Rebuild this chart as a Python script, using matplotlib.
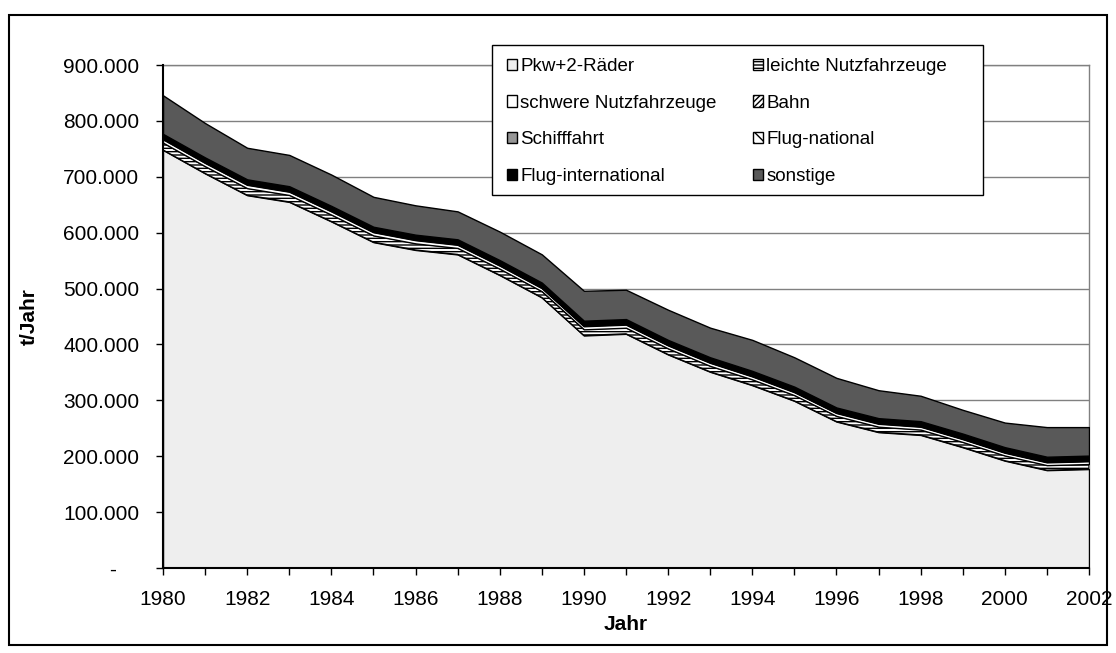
import matplotlib
matplotlib.use('Agg')
import matplotlib.pyplot as plt
import numpy as np
from matplotlib.patches import Patch, Rectangle
from matplotlib.ticker import FuncFormatter, MultipleLocator

plt.rcParams['font.family'] = ['Liberation Sans', 'DejaVu Sans']
plt.rcParams['hatch.linewidth'] = 1.0

# Emissionen in t/Jahr, je Verursacher
years = list(range(1980, 2003))
pkw = [748000, 706000, 667000, 655000, 620000, 583000, 569000, 561000, 524000, 484000, 416000, 419000,
       382000, 351000, 327000, 299000, 262000, 243000, 238000, 216000, 192000, 175000, 177000]
leichte_nfz = [13000, 12800, 12600, 12400, 12200, 12000, 11800, 11600, 11400, 11200, 11000, 10900,
               10800, 10600, 10400, 10200, 10000, 9800, 9600, 9400, 9200, 9000, 9000]
schwere_nfz = [6000, 5900, 5900, 5800, 5800, 5700, 5700, 5600, 5600, 5500, 5500, 5500,
               5400, 5400, 5300, 5300, 5200, 5200, 5100, 5100, 5000, 5000, 5000]
bahn = [2000, 2000, 1900, 1900, 1800, 1800, 1700, 1700, 1600, 1600, 1500, 1500,
        1400, 1400, 1300, 1300, 1200, 1200, 1100, 1100, 1000, 1000, 1000]
schifffahrt = [1500, 1500, 1500, 1400, 1400, 1400, 1400, 1300, 1300, 1300, 1300, 1200,
               1200, 1200, 1200, 1100, 1100, 1100, 1100, 1000, 1000, 1000, 1000]
flug_national = [800, 800, 800, 800, 800, 700, 700, 700, 700, 700, 700, 700,
                 600, 600, 600, 600, 600, 600, 500, 500, 500, 500, 500]
flug_international = [5500, 5600, 5700, 5800, 5900, 6000, 6100, 6200, 6300, 6400, 6500, 6600,
                      6700, 6800, 6900, 7000, 7100, 7200, 7300, 7400, 7500, 7600, 7600]
sonstige = [69000, 61500, 56500, 56000, 56000, 53500, 52500, 50000, 51000, 50500, 53500, 52500,
            54000, 53000, 55500, 52500, 53000, 50000, 45500, 42500, 44000, 53000, 51000]

# (Bezeichnung, Werte, Füllfarbe, Schraffur) von unten nach oben
layers = [
    ('Pkw+2-Räder', pkw, '#eeeeee', None),
    ('leichte Nutzfahrzeuge', leichte_nfz, 'white', '-----'),
    ('schwere Nutzfahrzeuge', schwere_nfz, 'white', None),
    ('Bahn', bahn, 'white', '//////'),
    ('Schifffahrt', schifffahrt, '#969696', None),
    ('Flug-national', flug_national, 'white', '\\\\\\'),
    ('Flug-international', flug_international, 'black', None),
    ('sonstige', sonstige, '#595959', None),
]


def y_format(v, pos):
    """Tausenderpunkte, Null als Strich."""
    if v == 0:
        return '-    '
    return f'{v:,.0f}'.replace(',', '.')


def x_format(v, pos):
    return f'{int(v)}' if int(v) % 2 == 0 else ''


def plot_emissions():
    fig = plt.figure(figsize=(11.16, 6.53), dpi=100)
    ax = fig.add_axes([163 / 1116, 1 - 568 / 653, 926 / 1116, 503 / 653])

    bottom = np.zeros(len(years))
    for label, values, color, hatch in layers:
        top = bottom + np.array(values)
        ax.fill_between(years, bottom, top, facecolor=color, edgecolor='black',
                        hatch=hatch, linewidth=1.0, zorder=3)
        bottom = top

    ax.set_xlim(1980, 2002)
    ax.set_ylim(0, 900000)
    ax.xaxis.set_major_locator(MultipleLocator(1))
    ax.xaxis.set_major_formatter(FuncFormatter(x_format))
    ax.yaxis.set_major_locator(MultipleLocator(100000))
    ax.yaxis.set_major_formatter(FuncFormatter(y_format))

    ax.grid(axis='y', color='#808080', linewidth=1.0, zorder=0)
    ax.set_axisbelow(True)
    for side in ('top', 'right'):
        ax.spines[side].set_color('#808080')
        ax.spines[side].set_linewidth(1.0)
    for side in ('left', 'bottom'):
        ax.spines[side].set_color('black')
        ax.spines[side].set_linewidth(1.5)
        ax.spines[side].set_zorder(5)

    ax.tick_params(axis='x', direction='out', length=5, width=1, labelsize=15, pad=11)
    ax.tick_params(axis='y', direction='out', length=5, width=1, labelsize=15, pad=12)

    ax.set_xlabel('Jahr', fontsize=15, fontweight='bold')
    ax.xaxis.set_label_coords(0.5, -0.094)
    ax.set_ylabel('t/Jahr', fontsize=15, fontweight='bold')
    ax.yaxis.set_label_coords(-0.134, 0.5)

    # Legendenkasten separat, damit Breite und Innenabstand frei wählbar sind
    fig.add_artist(Rectangle((492 / 1116, 1 - 195 / 653), 491 / 1116, 150 / 653,
                             transform=fig.transFigure, facecolor='white',
                             edgecolor='black', linewidth=1.0, zorder=4))
    handles = [Patch(facecolor=c, edgecolor='black', hatch=h, linewidth=1.0, label=l)
               for l, v, c, h in layers]
    order = [0, 2, 4, 6, 1, 3, 5, 7]
    leg = fig.legend([handles[i] for i in order], [handles[i].get_label() for i in order],
                     ncol=2, loc='upper left', bbox_to_anchor=(507 / 1116, 1 - 58 / 653),
                     bbox_transform=fig.transFigure, borderaxespad=0, borderpad=0,
                     frameon=False, fontsize=13.5, handlelength=0.55, handleheight=0.55,
                     handletextpad=0.15, columnspacing=1.95, labelspacing=1.05)
    leg.set_zorder(5)

    # Rahmen um das gesamte Diagramm
    fig.add_artist(Rectangle((9 / 1116, 1 - 645 / 653), 1098 / 1116, 630 / 653,
                             transform=fig.transFigure, fill=False,
                             edgecolor='black', linewidth=1.5))

    fig.savefig('out.png', dpi=100)


plot_emissions()
